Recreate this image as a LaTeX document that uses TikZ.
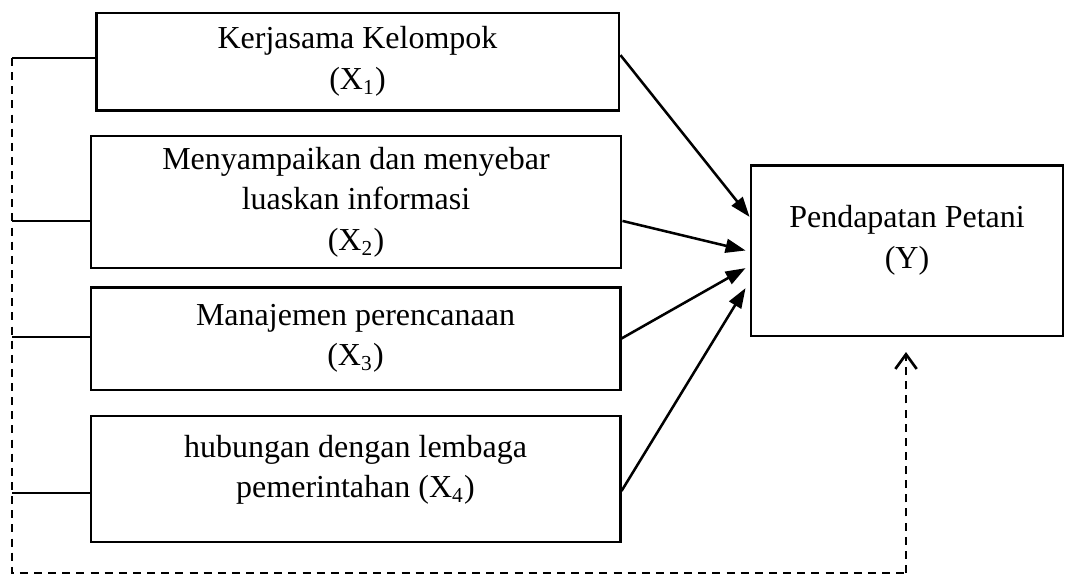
\documentclass[tikz,border=0pt]{standalone}
\usepackage{fontspec}
\setmainfont{Liberation Serif}
\usetikzlibrary{arrows.meta}

\begin{document}
\begin{tikzpicture}[x=0.375pt,y=-0.375pt,
		kotak/.style={draw,line width=1.1pt,inner sep=0pt,align=center,font=\fontsize{12}{15.2}\selectfont},
		tulisan/.style={inner sep=0pt,align=center,font=\fontsize{12}{15.2}\selectfont},
		panah/.style={line width=0.95pt,-{Triangle[length=7.5pt,width=5.2pt]}},
		garis/.style={line width=0.55pt},
		tebal/.style={line width=0.9pt},
		putus/.style={line width=0.9pt,dash pattern=on 3pt off 2.3pt}]
	\useasboundingbox (0,0) rectangle (1065,575);
	\node[kotak,minimum width=196.1pt,minimum height=36.4pt] (x1) at (357.5,61.5) {Kerjasama Kelompok\\(X\textsubscript{1})};
	\node[kotak,minimum width=198.75pt,minimum height=49.5pt] (x2) at (356,202) {Menyampaikan dan menyebar\\luaskan informasi\\(X\textsubscript{2})};
	\node[kotak,minimum width=198.4pt,minimum height=38.6pt] (x3) at (355.5,338.5) {Manajemen perencanaan\\(X\textsubscript{3})};
	\node[kotak,minimum width=198.4pt,minimum height=47.25pt,
		label={[tulisan,yshift=3.4pt]center:hubungan dengan lembaga\\pemerintahan (X\textsubscript{4})}] (x4) at (355.5,479) {};
	\node[kotak,minimum width=117pt,minimum height=64.1pt,
		label={[tulisan,yshift=3.8pt]center:Pendapatan Petani\\(Y)}] (y) at (907,250.5) {};
	\coordinate (k1) at (12,58);
	\coordinate (k2) at (12,221);
	\coordinate (k3) at (12,337);
	\coordinate (k4) at (12,493);
	\coordinate (b0) at (12,573);
	\coordinate (b1) at (906,573);
	\coordinate (b2) at (906,352);
	\path[panah]
		([yshift=2.4pt]x1.east) edge ([yshift=12.6pt]y.west)
		([yshift=-7.1pt]x2.east) edge ([xshift=-1.5pt]y.west)
		(x3.east) edge ([xshift=-1.5pt,yshift=-6.6pt]y.west)
		([yshift=-4.5pt]x4.east) edge ([xshift=-1.5pt,yshift=-14.1pt]y.west);
	\draw[garis] (k1) -- (k1 -| x1.west);
	\draw[garis] (k2) -- (k2 -| x2.west);
	\draw[tebal] (k3) -- (k3 -| x3.west);
	\draw[tebal] (k4) -- (k4 -| x4.west);
	\draw[putus] (k1) -- (b0) -- (b1);
	\draw[putus,line width=1pt,-{Straight Barb[length=5.5pt,width=8pt]}] (b1) -- (b2);
\end{tikzpicture}
\end{document}
